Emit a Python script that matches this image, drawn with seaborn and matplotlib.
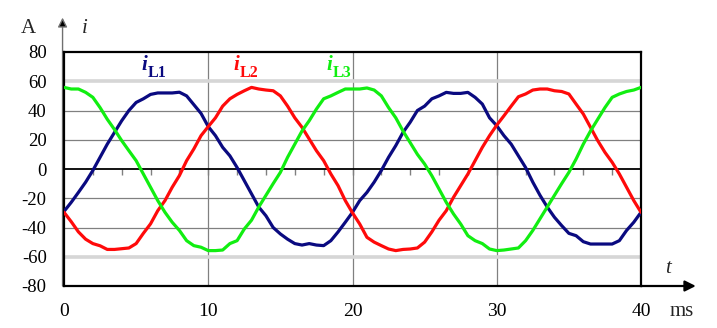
import numpy as np
import pandas as pd
import matplotlib
matplotlib.use("Agg")
import matplotlib.pyplot as plt
from matplotlib.ticker import MultipleLocator
import seaborn as sns

# ---------------- data ----------------
t_ms = [0, 0.5, 1, 1.5, 2, 2.5, 3, 3.5, 4, 4.5, 5, 5.5, 6, 6.5, 7, 7.5, 8, 8.5, 9, 9.5,
        10, 10.5, 11, 11.5, 12, 12.5, 13, 13.5, 14, 14.5, 15, 15.5, 16, 16.5, 17, 17.5, 18, 18.5, 19, 19.5,
        20, 20.5, 21, 21.5, 22, 22.5, 23, 23.5, 24, 24.5, 25, 25.5, 26, 26.5, 27, 27.5, 28, 28.5, 29, 29.5,
        30, 30.5, 31, 31.5, 32, 32.5, 33, 33.5, 34, 34.5, 35, 35.5, 36, 36.5, 37, 37.5, 38, 38.5, 39, 39.5,
        40]

i_L1 = [-29, -22.8, -16, -9, -1, 8, 17, 25, 33, 40, 45.5, 48, 51, 52, 52, 52, 52.5, 50, 44, 38,
        29, 22.8, 14.8, 9, 1, -8, -17, -26, -32, -40, -44.4, -48, -51, -52, -51, -52, -52.4, -49, -43, -36.4,
        -29.6, -21.6, -16, -9, -1, 8, 16, 25, 32, 40, 43, 48, 50, 52.4, 51.7, 51.7, 52.4, 49, 44.4, 35,
        29.6, 22.8, 17, 9, 1, -9, -18, -26, -33, -38.7, -44, -45.6, -49.7, -51.3, -51.3, -51.3, -51.3, -49, -42, -36.4,
        -29.6]

i_L2 = [-29.6, -36, -43, -48, -51, -52.5, -55, -55, -54.5, -54, -51, -44, -37.5, -28.5, -21.6, -12.5, -4.5, 5.7, 13.7, 22.8,
        29, 35, 43, 48, 51, 53.5, 55.8, 54.7, 54, 53.5, 50, 43, 35, 28.5, 20.5, 12.5, 5.7, -3.4, -11.4, -21.6,
        -30, -37.6, -46.7, -50, -52.4, -54.7, -55.8, -55, -54.7, -54, -50, -43, -35, -28.5, -19.4, -11.4, -3.4, 5.7, 14.8, 22.8,
        30, 36.4, 43, 49.4, 51.3, 54, 54.7, 54.7, 53.5, 53, 51.3, 44.4, 37.6, 28.5, 19.4, 11.4, 4.6, -3.4, -12.5, -21.6,
        -29.6]

i_L3 = [55.8, 54.7, 54.7, 52.4, 49, 42, 34, 27, 19.4, 12.5, 5.7, -3.4, -12.5, -21.6, -29.6, -36.4, -42, -49, -52.4, -53.5,
        -55.8, -55.8, -55.4, -51, -49, -41, -35, -26, -18, -10, -2.3, 8, 17, 26, 33, 41, 48, 50, 52.4, 54.7,
        54.7, 54.7, 55.4, 54, 50, 42, 35, 26, 18, 10, 3.4, -4.6, -13.7, -22.8, -30.7, -37.6, -45.6, -49, -51, -54.7,
        -55.8, -55.4, -54.7, -54, -49, -42, -34, -26, -18, -10, -2.3, 6.8, 17, 26, 34, 42, 49, 51.3, 53, 54,
        55.8]

phases = ["L1", "L2", "L3"]
colors = {"L1": "#0a0a80", "L2": "#ff0a0a", "L3": "#11ee11"}

y_ticks = [-80, -60, -40, -20, 0, 20, 40, 60, 80]
x_ticks = [0, 10, 20, 30, 40]

# ---------------- styling ----------------
sns.set_style("white")
plt.rcParams["font.family"] = ["Liberation Serif", "DejaVu Serif"]
plt.rcParams["axes.unicode_minus"] = False

df = pd.DataFrame({
    "t": t_ms * 3,
    "i": i_L1 + i_L2 + i_L3,
    "phase": ["L1"] * len(t_ms) + ["L2"] * len(t_ms) + ["L3"] * len(t_ms),
})

fig = plt.figure(figsize=(7.17, 3.28), dpi=100)
ax = fig.add_axes([64 / 717, 42 / 328, 577 / 717, 234 / 328])

sns.lineplot(data=df, x="t", y="i", hue="phase", palette=colors, hue_order=phases,
             linewidth=2.3, legend=False, ax=ax, zorder=5, estimator=None, sort=False)

ax.set_xlim(0, 40)
ax.set_ylim(-80, 80)
ax.set_xlabel("")
ax.set_ylabel("")
ax.set_xticks(x_ticks)
ax.set_yticks(y_ticks)
ax.yaxis.set_minor_locator(MultipleLocator(4))
ax.tick_params(axis="x", length=0, labelsize=14, pad=12.5, colors="black")
ax.tick_params(axis="y", which="major", length=4, width=1, color="#707070",
               labelsize=13.5, pad=8.5, labelcolor="black")
ax.tick_params(axis="y", which="minor", length=3.5, width=1, color="#707070")

for s in ax.spines.values():
    s.set_color("black")
    s.set_linewidth(1.6)

ax.grid(True, which="major", axis="both", color="#808080", linewidth=0.9)
ax.set_axisbelow(True)
for val, gl in zip(y_ticks, ax.yaxis.get_gridlines()):
    if abs(val) == 60:
        gl.set_color("#d6d6d6")
        gl.set_linewidth(2.6)
    elif val == 0:
        gl.set_color("black")
        gl.set_linewidth(1.3)
    elif abs(val) == 80:
        gl.set_visible(False)
for val, gl in zip(x_ticks, ax.xaxis.get_gridlines()):
    if val in (0, 40):
        gl.set_visible(False)

# small ticks along the zero line
sec = ax.secondary_xaxis(0.5)
sec.set_xticks([v for v in range(2, 40, 2)])
sec.tick_params(axis="x", direction="in", length=4, width=1, color="#808080",
                labelbottom=False, labeltop=False)
sec.spines["bottom"].set_color("black")
sec.spines["bottom"].set_linewidth(1.3)
sec.spines["top"].set_visible(False)

# axis arrows
ax.annotate("", xy=(-0.1, 103.5), xytext=(-0.1, -80), xycoords="data",
            arrowprops=dict(arrowstyle="-|>", color="#707070", lw=1.0,
                            mutation_scale=14, shrinkA=0, shrinkB=0, fc="black", ec="#707070"),
            annotation_clip=False, zorder=1)
ax.annotate("", xy=(43.8, -80), xytext=(40, -80), xycoords="data",
            arrowprops=dict(arrowstyle="-|>", color="black", lw=1.6,
                            mutation_scale=16, shrinkA=0, shrinkB=0),
            annotation_clip=False)

# axis texts
ax.text(-2.5, 96, "A", fontsize=15, ha="center", va="center", clip_on=False)
ax.text(1.45, 96, "i", fontsize=15, style="italic", ha="center", va="center", clip_on=False)
ax.text(41.9, -68, "t", fontsize=15, style="italic", ha="center", va="center", clip_on=False)
ax.text(42.8, -97.5, "ms", fontsize=15, ha="center", va="center", clip_on=False)

# curve labels
label_pos = {"L1": (5.35, 68), "L2": (11.75, 68), "L3": (18.2, 68)}
for ph in phases:
    x0, y0 = label_pos[ph]
    ax.text(x0, y0, "i", fontsize=15, style="italic", weight="bold",
            color=colors[ph], ha="left", va="baseline")
    ax.text(x0 + 0.42, y0 - 5, ph, fontsize=11.5, weight="bold",
            color=colors[ph], ha="left", va="baseline")

fig.savefig("out.png", dpi=100)
